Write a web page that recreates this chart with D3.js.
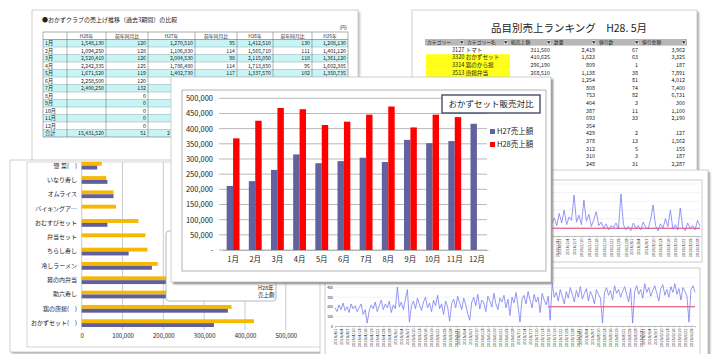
<!DOCTYPE html>
<html>
<head>
<meta charset="utf-8">
<script src="https://cdn.jsdelivr.net/npm/d3@7"></script>
<style>
  body { margin: 0; background: #fff; }
  svg { display: block; }
  text { font-family: "Noto Sans CJK JP", "Noto Sans", sans-serif; fill: #222; }
</style>
</head>
<body>
<svg id="c" width="713" height="354"></svg>
<script>
// ---- main chart: monthly sales of the side-dish set ----
const months = ["1月","2月","3月","4月","5月","6月","7月","8月","9月","10月","11月","12月"];
const seriesNames = ["H27売上額","H28売上額"];
const salesH27 = [211000,227000,264000,315000,286000,293000,304000,290000,363000,352000,359000,416000];
const salesH28 = [368000,426000,468000,464000,412000,423000,446000,473000,404000,446000,438000,null];
const mainTicks = [0,50000,100000,150000,200000,250000,300000,350000,400000,450000,500000];
const mainTitle = "おかずセット販売対比";

// ---- item ranking bars ----
const itemNames = ["惣 菜(　)","いなり寿し","オムライス","バイキングア…","おむすびセット","弁当セット","ちらし寿し","冷しラーメン","幕の内弁当","助六寿し","鶏の唐揚(　)","おかずセット(　)"];
const itemSalesH28 = [49000,60000,78000,84000,139000,156000,161000,186000,250000,316000,367000,422000];
const itemSalesH27 = [38000,63000,78000,0,63000,0,115000,172000,228000,265000,358000,324000];
const itemTicks = [0,100000,200000,300000,400000,500000];

// ---- three-year comparison table ----
const tableTitle = "●おかずクラブの売上げ推移（過去3期間）の比較";
const tableHead = ["","H28年","前年同月比","H27年","前年同月比","H26年","前年同月比","H25年"];
const tableRows = ["1月","2月","3月","4月","5月","6月","7月","8月","9月","10月","11月","12月","合計"];
const colH28 = ["1,548,130","1,094,250","2,520,410","2,242,335","1,671,520","2,258,500","2,400,250","","","","","","15,431,520"];
const colRatio1 = ["120","128","126","125","119","120","132","0","0","0","0","0","51"];
const colH27 = ["1,270,510","1,106,830","2,004,530","1,786,480","1,402,730","1,881,200","1,819,010","1,574,300","2,120,450","1,946,800","2,540,100","3,521,300","28,174,210"];
const colRatio2 = ["95","114","98","114","117","105","97","101","110","99","104","108","105"];
const colH26 = ["1,412,510","1,565,710","2,115,050","1,713,850","1,337,570","1,790,400","1,875,300","1,558,900","1,927,600","1,966,500","2,442,400","3,260,500","22,966,190"];
const colRatio3 = ["130","111","118","95","102","110","104","99","107","103","112","106","108"];
const colH25 = ["1,208,130","1,401,120","1,361,120","1,602,385","1,350,735","1,627,600","1,803,200","1,574,700","1,801,500","1,909,200","2,180,700","3,075,900","20,896,290"];

// ---- May ranking table ----
const rankTitle = "品目別売上ランキング　H28. 5月";
const rankHead = ["カテゴリー","カテゴリー名","総売上額","数量","値引数","値引金額"];
const rankNames = ["3127 トマト","3320 おかずセット","3314 鶏のから揚","3513 唐揚弁当","3210 幕の内弁当","3318 助六寿し","3412 冷しラーメン","3315 ちらし寿し","3511 弁当セット","3316 おむすびセット","3219 バイキング","3317 オムライス","3311 いなり寿し","3410 惣菜","3120 サラダ","3122 煮物"];
const rankSales = ["311,560","410,625","296,190","268,510","241,300","228,400","186,200","161,300","156,200","139,400","84,100","78,300","60,200","49,100","47,800","41,200"];
const rankQty = ["2,419","1,623","809","1,138","1,254","808","753","404","387","693","354","429","378","312","310","248"];
const rankDiscN = ["67","63","1","38","81","74","82","3","11","33","","2","13","5","3","31"];
const rankDiscY = ["3,962","3,325","187","7,891","4,012","7,400","6,731","300","1,100","2,190","","127","1,562","155","187","2,287"];
const rankHighlight = [1,2,3];

// ---- daily sales lines ----
const dailyUpper = [120,80,150,95,60,130,170,90,110,75,140,100,210,85,120,65,150,105,90,180,
  70,125,95,160,80,110,240,90,130,70,115,150,85,100,190,75,120,95,140,60,
  170,110,85,130,100,220,80,115,90,150,70,125,105,180,95,60,140,110,85,160,
  120,75,100,200,90,130,70,150,115,85,170,95,120,60,140,260,100,80,130,110,
  190,90,150,70,120,230,100,160,130,
  140,210,120,260,150,300,130,220,180,473,160,240,130,415,170,250,110,190,280,120,
  160,90,140,70,120,100,150,80,485,130,70,110,60,150,90,120,70,160,100,80,
  190,358,120,60,140,90,200,110,300,80,130,70,323,100,60,150,90,120,70,180,110];
const upperAverage = 90;
const upperStart = "2015-11-01";
const dailyLower = [190,150,220,170,240,160,200,140,230,180,210,150,190,230,120,170,30,
  160,220,180,250,150,210,270,170,230,190,260,140,220,180,
  406,200,250,170,280,380,40,210,260,
  180,290,220,160,250,300,190,240,150,270,210,320,180,230,120,260,200,
  50,230,280,190,310,240,170,290,220,130,60,250,300,
  210,330,180,270,240,150,310,260,200,340,230,170,290,250,320,190,280,110,300,240,350,210,
  40,280,320,230,360,270,190,330,250,300,140,340,270,220,310,60,445,300,
  350,260,380,310,230,360,290,400,330,250,370,300,410,280,
  340,390,260,360,310,230,380,330,290,30,350,
  400,320,370,270,420,340,380,300,360,410,330,250,390,30,360,
  420,330,380,290,440,350,400,310,370,420,340,260,390,430,320,380,300,410,350,440,330,390,270,400,360,310,
  40,380,420,350];
const lowerAverage = 200;
const lowerAverageFrom = 106;
const lowerStart = "2015-04-01";
const lowerTicks = [0,100,200,300,400,500];

const svg = d3.select("#c");
const defs = svg.append("defs");
const blur = defs.append("filter").attr("id", "soft").attr("x", "-10%").attr("y", "-10%").attr("width", "120%").attr("height", "120%");
blur.append("feGaussianBlur").attr("stdDeviation", 1.2);

// front sheet outline; texts on the sheets behind it are trimmed to what shows
const front = { x: 171, y: 77, w: 380, h: 205 };

function panel(g, x, y, w, h, shade) {
  g.append("rect").attr("x", x + 2).attr("y", y + 2).attr("width", w).attr("height", h)
    .attr("fill", shade || "#9a9a9a").attr("filter", "url(#soft)");
  g.append("rect").attr("x", x).attr("y", y).attr("width", w).attr("height", h)
    .attr("fill", "#fff").attr("stroke", "#c4c4c4").attr("stroke-width", 0.8);
}

// ================= comparison table (back, top-left) =================
const gT = svg.append("g");
panel(gT, 32, 10, 326, 160, "#c0c0c0");
gT.append("text").attr("x", 42).attr("y", 22).attr("font-size", 6).text(tableTitle);
gT.append("text").attr("x", 347).attr("y", 29).attr("font-size", 4.5).attr("text-anchor", "end").text("(円)");
const tCols = [43, 67, 106, 148, 195, 237, 273, 312, 348];
const tTop = 32, tRowH = 7.5;
const tColumns = [tableRows, colH28, colRatio1, colH27, colRatio2, colH26, colRatio3, colH25];
tableRows.forEach((r, i) => {
  if (i % 2 === 0) {
    gT.append("rect").attr("x", tCols[0]).attr("y", tTop + tRowH * (i + 1))
      .attr("width", tCols[8] - tCols[0]).attr("height", tRowH).attr("fill", "#c8f4f6");
  }
});
for (let i = 0; i <= tableRows.length + 1; i++) {
  gT.append("line").attr("x1", tCols[0]).attr("x2", tCols[8])
    .attr("y1", tTop + tRowH * i).attr("y2", tTop + tRowH * i)
    .attr("stroke", i === 0 || i === 1 || i === tableRows.length + 1 ? "#555" : "#8aa")
    .attr("stroke-width", 0.5);
}
tCols.forEach(cx => {
  gT.append("line").attr("x1", cx).attr("x2", cx).attr("y1", tTop).attr("y2", tTop + tRowH * (tableRows.length + 1))
    .attr("stroke", "#666").attr("stroke-width", 0.5);
});
tableHead.forEach((h, j) => {
  gT.append("text").attr("x", (tCols[j] + tCols[j + 1]) / 2).attr("y", tTop + 5.5)
    .attr("text-anchor", "middle").attr("font-size", 4.8).text(h);
});
tColumns.forEach((col, j) => {
  col.forEach((v, i) => {
    if (v === "") return;
    gT.append("text")
      .attr("x", j === 0 ? tCols[0] + 2 : tCols[j + 1] - 2)
      .attr("y", tTop + tRowH * (i + 1) + 5.6)
      .attr("text-anchor", j === 0 ? "start" : "end")
      .attr("font-size", 5.2).text(v);
  });
});

// ================= ranking table (back, top-right) =================
const gR = svg.append("g");
panel(gR, 412, 10, 285, 165, "#a8a8a8");
gR.append("text").attr("x", 569).attr("y", 32).attr("text-anchor", "middle")
  .attr("font-size", 10.5).attr("fill", "#111").text(rankTitle);
const rCols = [425, 465, 509, 552, 597, 640, 687];
const rTop = 39, rHeadH = 6.6, rRowH = 7.6;
gR.append("rect").attr("x", rCols[0]).attr("y", rTop).attr("width", rCols[6] - rCols[0]).attr("height", rHeadH)
  .attr("fill", "#b8b8b8");
rankHead.forEach((h, j) => {
  gR.append("text").attr("x", rCols[j] + 2).attr("y", rTop + 5).attr("font-size", 4.8).attr("fill", "#333").text(h);
  gR.append("rect").attr("x", rCols[j + 1] - 5.5).attr("y", rTop + 1).attr("width", 4.5).attr("height", 4.6)
    .attr("fill", "#e6e6e6").attr("stroke", "#888").attr("stroke-width", 0.3);
  gR.append("text").attr("x", rCols[j + 1] - 3.25).attr("y", rTop + 4.6).attr("text-anchor", "middle")
    .attr("font-size", 3.4).attr("fill", "#333").text("▼");
});
rankHighlight.forEach(i => {
  gR.append("rect").attr("x", rCols[0] + 1).attr("y", rTop + rHeadH + rRowH * i + 1)
    .attr("width", rCols[2] - rCols[0]).attr("height", rRowH).attr("fill", "#ffff1a");
});
rankNames.forEach((n, i) => {
  const yy = rTop + rHeadH + rRowH * i + 6.2;
  gR.append("text").attr("x", 452).attr("y", yy).attr("font-size", 5.6).text(n);
  [rankSales, rankQty, rankDiscN, rankDiscY].forEach((col, k) => {
    if (col[i] === "") return;
    gR.append("text").attr("x", rCols[k + 3] - 2).attr("y", yy).attr("text-anchor", "end")
      .attr("font-size", 5.4).text(col[i]);
  });
});

// ================= item bars (back, bottom-left) =================
const gB = svg.append("g");
panel(gB, 10, 160, 320, 192, "#b0b0b0");
gB.append("rect").attr("x", 27).attr("y", 162).attr("width", 300).attr("height", 185)
  .attr("fill", "none").attr("stroke", "#bbb").attr("stroke-width", 0.6);
const bx = d3.scaleLinear().domain([0, 400000]).range([81.7, 245]);
const by = d3.scaleBand().domain(itemNames).range([158.5, 330.3]).paddingInner(0.46).paddingOuter(0.23);
const bSub = d3.scaleBand().domain(["H28", "H27"]).range([0, by.bandwidth()]);
gB.append("g").selectAll("line").data(itemTicks).join("line")
  .attr("x1", d => bx(d)).attr("x2", d => bx(d)).attr("y1", 162).attr("y2", 330)
  .attr("stroke", "#a8a8a8").attr("stroke-width", 0.6);
gB.append("g").attr("transform", "translate(0,331)")
  .call(d3.axisBottom(bx).tickValues(itemTicks).tickSize(0).tickFormat(d3.format(",")))
  .call(g => g.select(".domain").remove())
  .call(g => g.selectAll("text").attr("font-size", 6).attr("dy", "0.7em").attr("fill", "#333")
    .style("font-family", '"Noto Sans CJK JP", sans-serif'));
gB.append("g").attr("transform", "translate(77,0)")
  .call(d3.axisLeft(by).tickSize(0).tickPadding(0))
  .call(g => g.select(".domain").remove())
  .call(g => g.selectAll("text").attr("font-size", 6).attr("fill", "#222")
    .style("font-family", '"Noto Sans CJK JP", sans-serif'));
gB.append("g").selectAll("rect").data(itemNames.map((n, i) => ({ n, v: itemSalesH28[i] }))).join("rect")
  .attr("x", bx(0)).attr("y", d => by(d.n) + bSub("H28")).attr("height", bSub.bandwidth())
  .attr("width", d => bx(d.v) - bx(0)).attr("fill", "#f6b800");
gB.append("g").selectAll("rect").data(itemNames.map((n, i) => ({ n, v: itemSalesH27[i] }))).join("rect")
  .attr("x", bx(0)).attr("y", d => by(d.n) + bSub("H27")).attr("height", bSub.bandwidth())
  .attr("width", d => bx(d.v) - bx(0)).attr("fill", "#5f5f9e");
gB.append("rect").attr("x", 166).attr("y", 231).attr("width", 110).attr("height", 70).attr("rx", 3)
  .attr("fill", "#fff").attr("stroke", "#9ab").attr("stroke-width", 0.8);
gB.append("text").attr("x", 258).attr("y", 290).attr("font-size", 5.5).text("H28年");
gB.append("text").attr("x", 258).attr("y", 297).attr("font-size", 5.5).text("売上額");

// ================= daily lines (back, bottom-right) =================
const gL = svg.append("g");
panel(gL, 320, 170, 388, 190, "#a0a0a0");
gL.append("rect").attr("x", 327).attr("y", 180).attr("width", 375).attr("height", 82)
  .attr("fill", "none").attr("stroke", "#aaa").attr("stroke-width", 0.6);
gL.append("rect").attr("x", 325).attr("y", 268).attr("width", 375).attr("height", 95)
  .attr("fill", "none").attr("stroke", "#aaa").attr("stroke-width", 0.6);

function dailyChart(values, start, avg, avgFrom, xr, yr, ymax, axisY, showY) {
  const t0 = d3.timeParse("%Y-%m-%d")(start);
  const pts = values.map((v, i) => ({ d: d3.timeDay.offset(t0, i), v }));
  const x = d3.scaleTime().domain([pts[0].d, pts[pts.length - 1].d]).range(xr);
  const y = d3.scaleLinear().domain([0, ymax]).range(yr);
  const g = gL.append("g");
  g.append("g").selectAll("line").data(y.ticks(5)).join("line")
    .attr("x1", xr[0]).attr("x2", xr[1]).attr("y1", d => y(d)).attr("y2", d => y(d))
    .attr("stroke", "#e4e4ee").attr("stroke-width", 0.5);
  g.append("g").attr("transform", `translate(0,${axisY})`)
    .call(d3.axisBottom(x).ticks(d3.timeDay.every(3)).tickSize(1.5).tickFormat(d3.timeFormat("%Y/%-m/%-d")))
    .call(a => a.select(".domain").attr("stroke", "#888").attr("stroke-width", 0.5))
    .call(a => a.selectAll(".tick line").attr("stroke", "#888").attr("stroke-width", 0.4))
    .call(a => a.selectAll("text").attr("font-size", 4).attr("fill", "#555")
      .attr("transform", "rotate(-90)").attr("text-anchor", "end").attr("x", -2.5).attr("y", 0).attr("dy", "0.35em")
      .style("font-family", '"Noto Sans CJK JP", sans-serif'));
  if (showY) {
    g.append("g").attr("transform", `translate(${xr[0] - 1},0)`)
      .call(d3.axisLeft(y).tickValues(lowerTicks).tickSize(0).tickPadding(1))
      .call(a => a.select(".domain").remove())
      .call(a => a.selectAll("text").attr("font-size", 3.5).attr("fill", "#666")
        .style("font-family", '"Noto Sans CJK JP", sans-serif'));
  }
  g.append("line").attr("x1", x(pts[avgFrom].d)).attr("x2", xr[1]).attr("y1", y(avg)).attr("y2", y(avg))
    .attr("stroke", "#e0406a").attr("stroke-width", 1.1);
  g.append("path").datum(pts)
    .attr("d", d3.line().x(p => x(p.d)).y(p => y(p.v)))
    .attr("fill", "none").attr("stroke", "#7c7cf4").attr("stroke-width", 0.8);
}
dailyChart(dailyUpper, upperStart, upperAverage, 0, [332, 700], [236, 184], 600, 236, false);
dailyChart(dailyLower, lowerStart, lowerAverage, lowerAverageFrom, [335, 695], [326, 278], 500, 326, true);

// trim the texts of the back sheets to the part left uncovered by the front sheet
(function trimCovered() {
  const fx0 = front.x, fx1 = front.x + front.w + 2, fy0 = front.y, fy1 = front.y + front.h + 2;
  [gT, gR, gB, gL].forEach(g => {
    g.selectAll("text").each(function () {
      const r = this.getBoundingClientRect();
      if (r.bottom <= fy0 || r.top >= fy1 || r.right <= fx0 || r.left >= fx1) return;
      const sel = d3.select(this);
      const plain = !this.closest("g.tick") && !sel.attr("transform");
      const fullyIn = r.left >= fx0 && r.right <= fx1 && r.top >= fy0 - 1 && r.bottom <= fy1 + 1;
      if (fullyIn || !plain || r.top < fy0 - 2) { sel.remove(); return; }
      if (r.left < fx0) {
        const s = sel.text();
        sel.attr("text-anchor", "start").attr("x", r.left);
        let k = s.length;
        while (k > 0 && this.getBoundingClientRect().right > fx0 - 0.5) { k--; sel.text(s.slice(0, k)); }
        if (k === 0) sel.remove();
      } else {
        sel.remove();
      }
    });
  });
})();

// ================= main chart (front) =================
const gM = svg.append("g");
panel(gM, front.x, front.y, front.w, front.h, "#808080");
gM.append("rect").attr("x", 182).attr("y", 90).attr("width", 364).attr("height", 181)
  .attr("fill", "none").attr("stroke", "#a0a0a0").attr("stroke-width", 0.8);
const x0 = d3.scaleBand().domain(months).range([222, 488]).paddingInner(0.42).paddingOuter(0.21);
const x1 = d3.scaleBand().domain(seriesNames).range([0, x0.bandwidth()]);
const y = d3.scaleLinear().domain([0, 500000]).range([250, 98.3]);
const colors = { "H27売上額": "#62629e", "H28売上額": "#ff0000" };

gM.append("g").selectAll("line").data(mainTicks).join("line")
  .attr("x1", 219).attr("x2", 487).attr("y1", d => y(d)).attr("y2", d => y(d))
  .attr("stroke", "#a6a6a6").attr("stroke-width", 0.8);
gM.append("g").attr("transform", "translate(218,0)")
  .call(d3.axisLeft(y).tickValues(mainTicks).tickSize(0).tickPadding(5)
    .tickFormat(d => d === 0 ? "-" : d3.format(",")(d)))
  .call(g => g.select(".domain").remove())
  .call(g => g.selectAll("text").attr("font-size", 7.5).attr("fill", "#333")
    .style("font-family", '"Noto Sans CJK JP", sans-serif'));
gM.append("g").attr("transform", "translate(0,250)")
  .call(d3.axisBottom(x0).tickSize(0).tickPadding(7))
  .call(g => g.select(".domain").attr("stroke", "#a6a6a6").attr("stroke-width", 0.8))
  .call(g => g.selectAll("text").attr("font-size", 7.5).attr("fill", "#333")
    .style("font-family", '"Noto Sans CJK JP", sans-serif'));

const barData = [];
months.forEach((m, i) => {
  barData.push({ m, s: seriesNames[0], v: salesH27[i] });
  if (salesH28[i] != null) barData.push({ m, s: seriesNames[1], v: salesH28[i] });
});
gM.append("g").selectAll("rect").data(barData).join("rect")
  .attr("x", d => x0(d.m) + x1(d.s)).attr("width", x1.bandwidth())
  .attr("y", d => y(d.v)).attr("height", d => y(0) - y(d.v))
  .attr("fill", d => colors[d.s]);

// title box
gM.append("rect").attr("x", 442).attr("y", 95).attr("width", 98).attr("height", 18)
  .attr("fill", "#fff").attr("stroke", "#34405e").attr("stroke-width", 1.3);
gM.append("text").attr("x", 491).attr("y", 107).attr("text-anchor", "middle")
  .attr("font-size", 8.5).attr("fill", "#111").text(mainTitle);

// legend
const lg = gM.append("g").selectAll("g").data(seriesNames).join("g")
  .attr("transform", (d, i) => `translate(490,${129 + i * 13})`);
lg.append("rect").attr("width", 5).attr("height", 5).attr("fill", d => colors[d]);
lg.append("text").attr("x", 7).attr("y", 5).attr("font-size", 7.5).attr("fill", "#333").text(d => d);
</script>
</body>
</html>
